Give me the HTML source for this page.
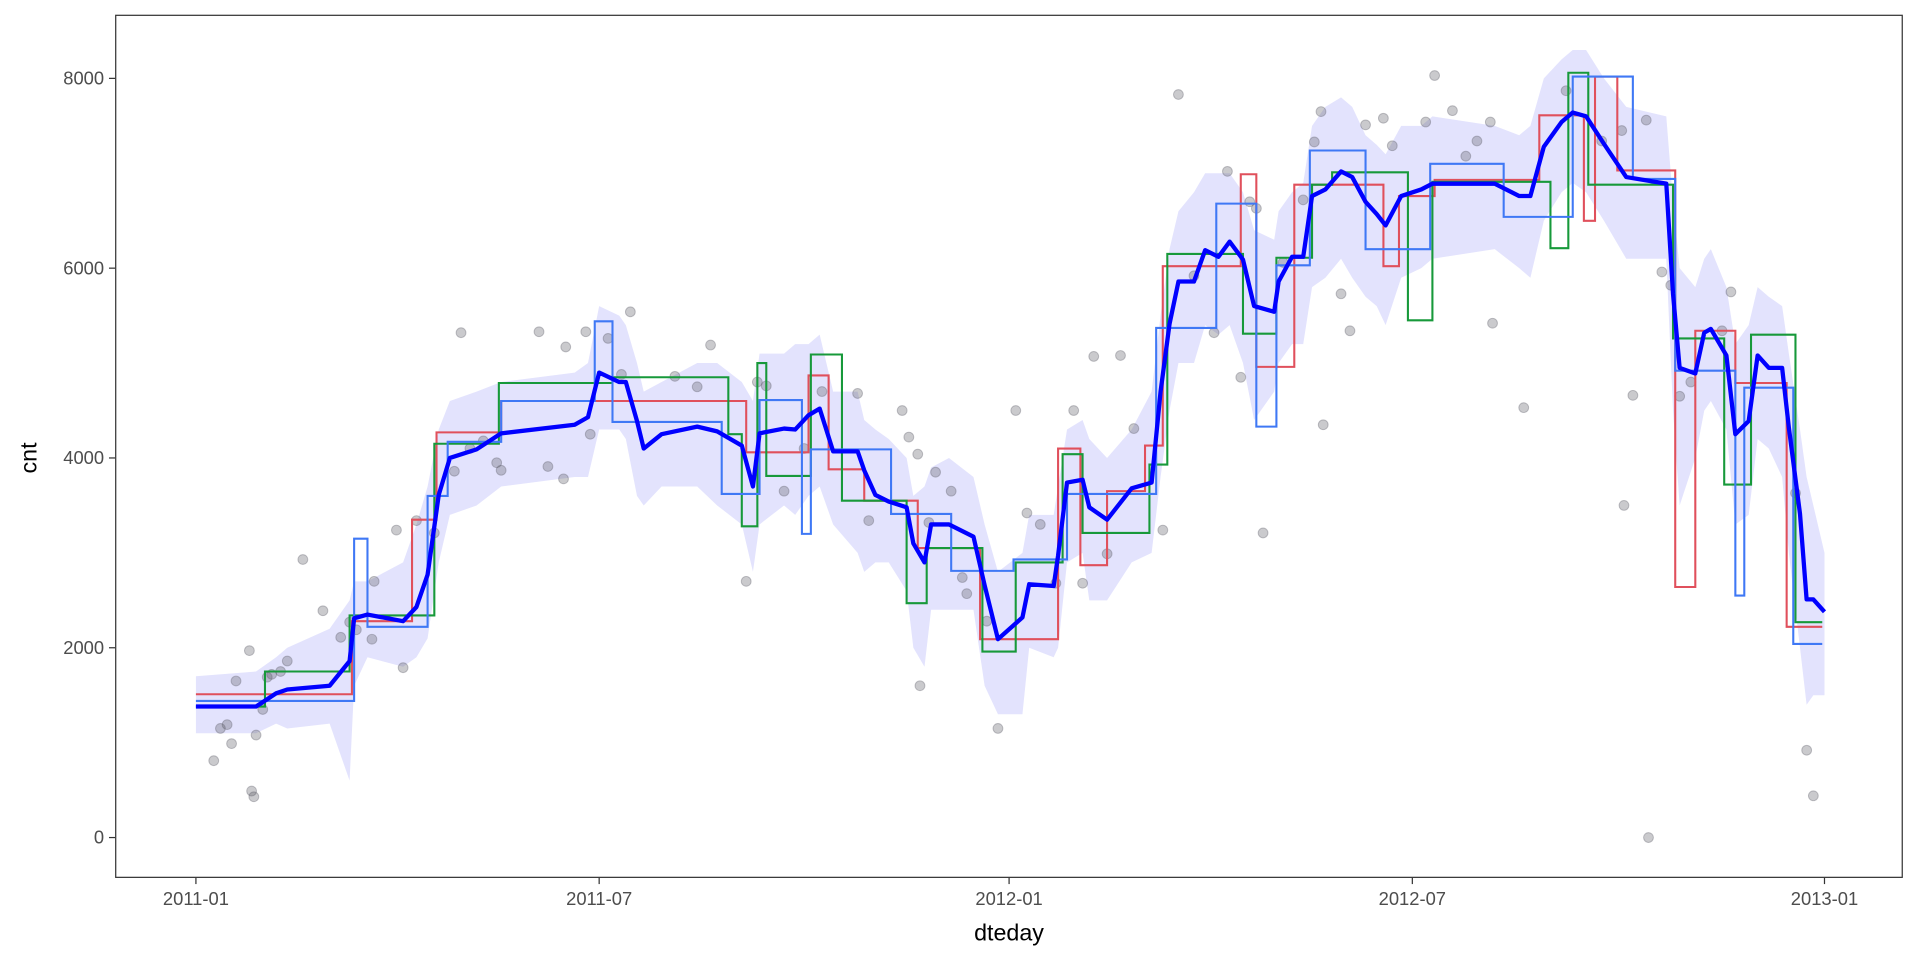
<!DOCTYPE html>
<html><head><meta charset="utf-8"><style>
html,body{margin:0;padding:0;background:#fff;}
svg{display:block;font-family:"Liberation Sans",sans-serif;}
</style></head><body>
<svg id="chart" width="1920" height="960" viewBox="0 0 1568 784" xmlns="http://www.w3.org/2000/svg">
<rect x="0" y="0" width="1568" height="784" fill="#fff"/>
<g id="ribbon-g"></g>
<g id="pts-g"></g>
<g id="steps-g"></g>
<g id="smooth-g"></g>
<rect x="94.5" y="12.5" width="1459" height="704" fill="none" stroke="#333" stroke-width="1"/>
<g id="axes-g"></g>
<text x="824" y="768" font-size="19" text-anchor="middle" fill="#000">dteday</text>
<text x="30" y="374" font-size="19" text-anchor="middle" fill="#000" transform="rotate(-90 30 374)">cnt</text>
</svg>
<script>
// day index from 2011-01-01
const smoothDays=[0,27,36,41,60,69,71,77,93,99,104,109,114,126,137,170,176,181,190,193,198,201,209,225,234,245,250,253,264,269,275,280,286,297,300,305,311,319,322,327,330,338,349,354,360,371,374,385,387,391,398,401,409,420,429,433,437,441,448,453,459,464,470,475,484,486,492,497,501,507,514,519,525,530,534,541,550,555,583,594,599,605,613,618,624,632,642,660,663,666,673,677,680,687,691,697,701,706,712,715,720,723,726,731];
const smoothVals=[1380,1380,1520,1560,1600,1860,2310,2350,2280,2430,2770,3610,4000,4090,4260,4350,4430,4900,4800,4800,4390,4100,4250,4330,4280,4130,3700,4260,4310,4300,4450,4520,4070,4070,3870,3610,3540,3480,3100,2900,3300,3300,3170,2660,2090,2320,2670,2650,2970,3740,3770,3480,3350,3680,3740,4700,5410,5860,5860,6190,6120,6280,6090,5600,5540,5860,6120,6120,6760,6830,7020,6960,6700,6570,6450,6760,6830,6890,6890,6760,6760,7280,7540,7640,7600,7310,6960,6890,5730,4950,4890,5320,5360,5080,4250,4390,5080,4950,4950,4320,3410,2510,2510,2380];
const ribbonLo=[1100,1100,1200,1150,1200,600,1600,1900,1800,1900,2100,2900,3400,3500,3700,3800,3800,4300,4300,4200,3600,3500,3700,3700,3500,3300,2800,3300,3500,3400,3600,3700,3300,3000,2800,2900,2900,2600,2000,1800,2400,2400,2400,1600,1300,1300,2000,1900,2000,2900,3000,2500,2500,2900,3000,3800,4500,5000,5000,5400,5300,5400,5000,4400,4700,5000,5200,5200,5800,5900,6100,5900,5700,5600,5400,5900,6000,6100,6200,6000,5900,6500,6800,6900,6800,6500,6100,6100,4500,3500,4000,4500,4600,4300,3300,3400,4200,4100,3800,3000,2000,1400,1500,1500];
const ribbonHi=[1700,1750,1900,2000,2200,2500,2700,2700,2900,3300,3700,4300,4600,4700,4800,4900,5000,5600,5500,5400,5000,4700,4800,5000,5000,4800,4600,5100,5100,5200,5200,5300,4700,4700,4400,4300,4200,4000,3600,3700,3900,4000,3800,3300,2800,3000,3400,3400,3700,4300,4400,4200,4000,4300,4700,5500,6200,6600,6800,7000,7000,7000,6800,6400,6300,6600,6800,6900,7500,7700,7800,7700,7400,7300,7200,7500,7500,7600,7500,7400,7500,8000,8200,8300,8300,8000,7700,7600,6700,6000,5800,6100,6200,5800,5200,5400,5800,5700,5600,5100,4300,3800,3500,3000];
const redDays=[0,70,97,108,137,247,275,284,300,324,352,387,397,409,426,434,469,476,493,533,540,556,603,623,628,638,664,673,691,714];
const redVals=[1510,2280,3350,4270,4600,4060,4870,3880,3550,3050,2090,4100,2870,3650,4130,6020,6990,4960,6880,6020,6760,6930,7610,6500,8020,7030,2640,5340,4790,2220];
const greenDays=[0,31,69,107,136,187,239,245,252,256,276,290,319,328,353,368,389,398,428,436,470,485,501,510,544,555,608,616,625,663,686,698,718];
const greenVals=[1380,1750,2340,4150,4790,4850,4250,3280,5000,3810,5090,3550,2470,3050,1960,2900,4040,3210,3930,6150,5310,6110,6880,7010,5450,6910,6210,8060,6880,5260,3720,5300,2270];
const blueDays=[0,71,77,104,113,137,179,187,236,253,272,276,312,339,367,391,431,458,476,485,500,525,554,587,618,645,664,691,695,717];
const blueVals=[1440,3150,2220,3600,4170,4600,5440,4380,3620,4610,3200,4090,3410,2810,2930,3620,5370,6680,4330,6030,7240,6200,7100,6540,8020,6940,4920,2550,4740,2040];
const ptDays=[8,11,14,16,18,24,25,26,27,30,32,34,38,41,48,57,65,69,72,79,80,90,93,99,107,116,119,123,129,135,137,154,158,165,166,175,177,185,195,191,215,225,231,247,252,256,264,273,281,297,302,317,320,324,325,329,332,339,344,346,355,360,368,373,379,386,394,398,403,409,415,421,434,441,448,457,463,469,473,476,479,488,497,502,505,506,514,518,525,537,552,556,564,575,581,582,596,615,631,641,645,651,652,658,662,666,671,685,689,718,723,726,533,570,640];
const ptVals=[810,1150,1190,990,1650,1970,490,430,1080,1350,1690,1720,1750,1860,2930,2390,2110,2270,2190,2090,2700,3240,1790,3340,3210,3860,5320,4100,4180,3950,3870,5330,3910,3780,5170,5330,4250,5260,5540,4880,4860,4750,5190,2700,4800,4760,3650,4100,4700,4680,3340,4500,4220,4040,1600,3320,3850,3650,2740,2570,2280,1150,4500,3420,3300,2680,4500,2680,5070,2990,5080,4310,3240,7830,5920,5320,7020,4850,6700,6630,3210,6060,6720,7330,7650,4350,5730,5340,7510,7290,7540,8030,7660,7340,7540,5420,4530,7870,7340,3500,4660,7560,0,5960,5820,4650,4800,5340,5750,3630,920,440,7580,7180,7450];
const yTicks=[0,2000,4000,6000,8000];
const xTickLabels=["2011-01","2011-07","2012-01","2012-07","2013-01"];
const xTickDays=[0,181,365,546,731];

const NS="http://www.w3.org/2000/svg";
const X0=160,X1=1490,D1=731,Y0=684,YK=620/8000;
function xs(d){return X0+(X1-X0)*d/D1;}
function ys(v){return Y0-v*YK;}
function mk(tag,attrs,parent){const e=document.createElementNS(NS,tag);for(const k in attrs)e.setAttribute(k,attrs[k]);parent.appendChild(e);return e;}

let rp="M";
for(let i=0;i<smoothDays.length;i++)rp+=(i?"L":"")+xs(smoothDays[i]).toFixed(1)+","+ys(ribbonHi[i]).toFixed(1);
for(let i=smoothDays.length-1;i>=0;i--)rp+="L"+xs(smoothDays[i]).toFixed(1)+","+ys(ribbonLo[i]).toFixed(1);
const rib=mk("path",{d:rp+"Z",fill:"#e3e3fd"},document.getElementById("ribbon-g"));



const pg=document.getElementById("pts-g");
for(let i=0;i<ptDays.length;i++){
  const c=mk("circle",{cx:xs(ptDays[i]),cy:ys(ptVals[i]),r:4,fill:"rgba(90,90,100,0.32)",stroke:"rgba(90,90,100,0.35)","stroke-width":0.8},pg);
  
  
}

function stepPath(days,vals){
  let p="M"+xs(days[0])+","+ys(vals[0]);
  for(let i=1;i<days.length;i++){p+="H"+xs(days[i]).toFixed(1)+"V"+ys(vals[i]).toFixed(1);}
  return p+"H"+xs(730);
}
const sg=document.getElementById("steps-g");
const r=mk("path",{d:stepPath(redDays,redVals),fill:"none",stroke:"#e0505c","stroke-width":1.7},sg);


const g=mk("path",{d:stepPath(greenDays,greenVals),fill:"none",stroke:"#17993a","stroke-width":1.7},sg);


const b=mk("path",{d:stepPath(blueDays,blueVals),fill:"none",stroke:"#3f78f5","stroke-width":1.7},sg);



let sp="";
for(let i=0;i<smoothDays.length;i++)sp+=(i?"L":"M")+xs(smoothDays[i]).toFixed(1)+","+ys(smoothVals[i]).toFixed(1);
const sm=mk("path",{d:sp,fill:"none",stroke:"#0000ff","stroke-width":3.5,"stroke-linejoin":"round"},document.getElementById("smooth-g"));



const ag=document.getElementById("axes-g");
for(const v of yTicks){
  const t=mk("line",{x1:89,x2:94,y1:ys(v),y2:ys(v),stroke:"#333","stroke-width":1},ag);
  
  
  const l=mk("text",{x:85,y:ys(v)+5,"font-size":15,"text-anchor":"end",fill:"#4d4d4d"},ag);
  l.textContent=v;
  
  
}
for(let i=0;i<xTickDays.length;i++){
  const x=xs(xTickDays[i]);
  const t=mk("line",{x1:x,x2:x,y1:717,y2:722,stroke:"#333","stroke-width":1},ag);
  
  
  const l=mk("text",{x:x,y:739,"font-size":15,"text-anchor":"middle",fill:"#4d4d4d"},ag);
  l.textContent=xTickLabels[i];
  
  
}
</script>
</body></html>
